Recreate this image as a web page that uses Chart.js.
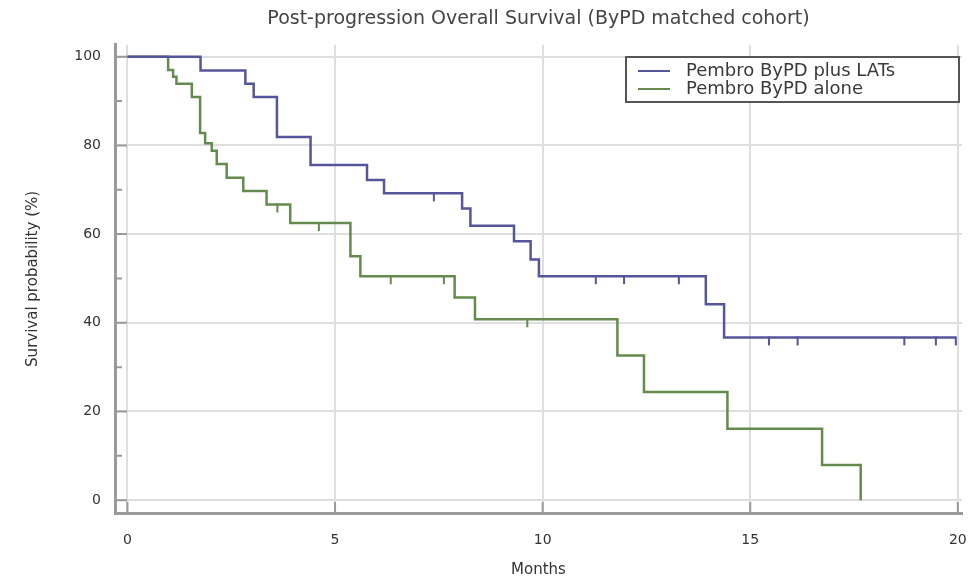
<!DOCTYPE html>
<html>
<head>
<meta charset="utf-8">
<title>Post-progression Overall Survival</title>
<script src="https://cdn.jsdelivr.net/npm/chart.js@4/dist/chart.umd.min.js"></script>
<style>
  html, body { margin: 0; padding: 0; background: #fff; }
  #wrap { width: 969px; height: 580px; }
</style>
</head>
<body>
<div id="wrap"><canvas id="km" width="969" height="580"></canvas></div>
<script>
// Kaplan-Meier steps (months, survival %)
const plusLatsMonths = [0, 1.76, 2.84, 3.04, 3.6, 4.41, 5.77, 6.18, 8.06, 8.26, 9.31, 9.71, 9.91, 13.93, 14.37, 19.95];
const plusLatsSurv   = [100, 96.9, 93.9, 90.9, 81.9, 75.6, 72.2, 69.2, 65.8, 61.9, 58.4, 54.3, 50.5, 44.2, 36.7, 36.7];
const aloneMonths = [0, 0.98, 1.1, 1.18, 1.55, 1.75, 1.87, 2.03, 2.15, 2.39, 2.79, 3.35, 3.92, 5.37, 5.61, 7.88, 8.37, 11.8, 12.44, 14.45, 16.73, 17.66];
const aloneSurv   = [100, 97.0, 95.5, 93.9, 90.9, 82.8, 80.5, 78.8, 75.8, 72.7, 69.7, 66.7, 62.5, 55.0, 50.5, 45.7, 40.8, 32.6, 24.4, 16.1, 7.9, 0];

// censored observations
const plusLatsCensMonths = [7.38, 11.28, 11.96, 13.28, 15.45, 16.14, 18.71, 19.47, 19.95];
const plusLatsCensSurv   = [69.2, 50.5, 50.5, 50.5, 36.7, 36.7, 36.7, 36.7, 36.7];
const aloneCensMonths = [3.61, 4.61, 6.34, 7.62, 9.63];
const aloneCensSurv   = [66.7, 62.5, 50.5, 50.5, 40.8];

const seriesNames = ['Pembro ByPD plus LATs', 'Pembro ByPD alone'];
const xTicks = [0, 5, 10, 15, 20];
const yTicks = [0, 20, 40, 60, 80, 100];
const yMinorTicks = [10, 30, 50, 70, 90];

const BLUE = '#55559a';
const GREEN = '#658a4e';
const FONT = 'DejaVu Sans, Verdana, sans-serif';

function toPoints(xs, ys) {
  const pts = [];
  for (let i = 0; i < xs.length; i++) pts.push({ x: xs[i], y: ys[i] });
  return pts;
}

// censor mark: short tick hanging under the curve
function censorMark(color) {
  const c = document.createElement('canvas');
  c.width = 4; c.height = 18;
  const g = c.getContext('2d');
  g.strokeStyle = color;
  g.lineWidth = 2;
  g.beginPath();
  g.moveTo(2, 8);
  g.lineTo(2, 17);
  g.stroke();
  return c;
}

// inward tick marks + framed legend, like the original software draws them
const decor = {
  id: 'decor',
  afterDatasetsDraw(chart) {
    const { ctx, chartArea: a, scales: { x, y } } = chart;
    ctx.save();
    ctx.strokeStyle = '#9a9a9a';
    ctx.lineWidth = 2;
    ctx.beginPath();
    yTicks.forEach(v => { const p = y.getPixelForValue(v); ctx.moveTo(a.left, p); ctx.lineTo(a.left + 12, p); });
    yMinorTicks.forEach(v => { const p = y.getPixelForValue(v); ctx.moveTo(a.left, p); ctx.lineTo(a.left + 7, p); });
    xTicks.forEach(v => { const p = x.getPixelForValue(v); ctx.moveTo(p, a.bottom); ctx.lineTo(p, a.bottom - 11); });
    ctx.stroke();

    // legend
    const bx = 626, by = 57, bw = 333, bh = 45;
    ctx.fillStyle = '#fff';
    ctx.fillRect(bx, by, bw, bh);
    ctx.strokeStyle = '#555';
    ctx.lineWidth = 2;
    ctx.strokeRect(bx, by, bw, bh);
    const colors = [BLUE, GREEN];
    ctx.font = '18px ' + FONT;
    ctx.textBaseline = 'middle';
    seriesNames.forEach((name, i) => {
      const ly = by + 14 + i * 18;
      ctx.strokeStyle = colors[i];
      ctx.lineWidth = 2;
      ctx.beginPath();
      ctx.moveTo(bx + 12, ly);
      ctx.lineTo(bx + 44, ly);
      ctx.stroke();
      ctx.fillStyle = '#3a3a3a';
      ctx.fillText(name, bx + 60, ly);
    });
    ctx.restore();
  }
};

const ctx = document.getElementById('km').getContext('2d');
new Chart(ctx, {
  type: 'line',
  data: {
    datasets: [
      {
        label: seriesNames[0],
        data: toPoints(plusLatsMonths, plusLatsSurv),
        stepped: 'before',
        borderColor: BLUE,
        borderWidth: 2.5,
        pointRadius: 0,
        fill: false
      },
      {
        label: seriesNames[1],
        data: toPoints(aloneMonths, aloneSurv),
        stepped: 'before',
        borderColor: GREEN,
        borderWidth: 2.5,
        pointRadius: 0,
        fill: false
      },
      {
        label: 'censored 1',
        data: toPoints(plusLatsCensMonths, plusLatsCensSurv),
        showLine: false,
        pointStyle: censorMark(BLUE),
        pointRadius: 5
      },
      {
        label: 'censored 2',
        data: toPoints(aloneCensMonths, aloneCensSurv),
        showLine: false,
        pointStyle: censorMark(GREEN),
        pointRadius: 5
      }
    ]
  },
  options: {
    responsive: false,
    animation: false,
    layout: { padding: { left: 0, right: 7, top: 0, bottom: 0 } },
    plugins: {
      legend: { display: false },
      tooltip: { enabled: false },
      title: {
        display: true,
        fullSize: false,
        text: 'Post-progression Overall Survival (ByPD matched cohort)',
        color: '#444',
        font: { family: FONT, size: 19, weight: 'normal' },
        padding: { top: 8, bottom: 14 }
      }
    },
    scales: {
      x: {
        type: 'linear',
        min: -0.3,
        max: 20.1,
        afterBuildTicks: s => { s.ticks = xTicks.map(v => ({ value: v })); },
        afterFit: s => { s.height = 67; s.paddingLeft = 0; s.paddingRight = 0; },
        grid: { color: '#dedede', lineWidth: 2, drawTicks: false },
        border: { display: true, color: '#9a9a9a', width: 3 },
        ticks: { padding: 19, color: '#333', font: { family: FONT, size: 14 } },
        title: {
          display: true,
          text: 'Months',
          color: '#333',
          font: { family: FONT, size: 15 },
          padding: { top: 0, bottom: 1 }
        }
      },
      y: {
        type: 'linear',
        min: -2.9,
        max: 102.7,
        afterBuildTicks: s => { s.ticks = yTicks.map(v => ({ value: v })); },
        afterFit: s => { s.width = 115; s.paddingTop = 0; s.paddingBottom = 0; },
        grid: { color: '#dedede', lineWidth: 2, drawTicks: false },
        border: { display: true, color: '#9a9a9a', width: 3 },
        ticks: { padding: 14, color: '#333', font: { family: FONT, size: 14 } },
        title: {
          display: true,
          text: 'Survival probability (%)',
          color: '#333',
          font: { family: FONT, size: 15 },
          padding: { top: 24, bottom: 0 }
        }
      }
    }
  },
  plugins: [decor]
});
</script>
</body>
</html>
